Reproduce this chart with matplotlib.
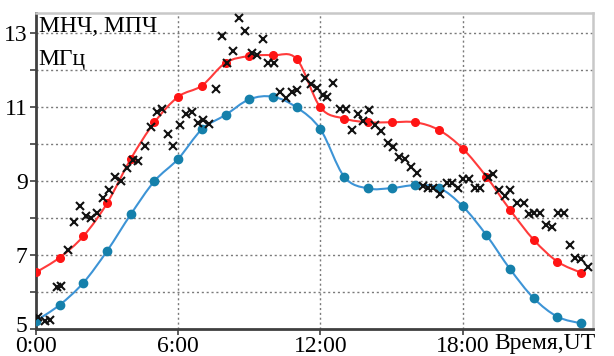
import numpy as np
import matplotlib
matplotlib.use("Agg")
import matplotlib.pyplot as plt
import matplotlib.transforms as mtransforms
from matplotlib.path import Path
from matplotlib.patches import PathPatch

plt.rcParams['font.family'] = ['Liberation Serif', 'DejaVu Serif']

# hourly model values, MHz
hours = list(range(24))
red_vals = [6.53, 6.93, 7.51, 8.40, 9.60, 10.59, 11.28, 11.58, 12.20, 12.38, 12.40, 12.30,
            10.99, 10.69, 10.59, 10.59, 10.59, 10.38, 9.88, 9.12, 8.22, 7.41, 6.82, 6.52]
blue_vals = [5.22, 5.65, 6.25, 7.11, 8.10, 9.00, 9.60, 10.40, 10.79, 11.21, 11.28, 10.99,
             10.40, 9.12, 8.80, 8.81, 8.89, 8.82, 8.32, 7.54, 6.62, 5.83, 5.33, 5.15]

# measured values (crosses)
meas_t = [0.08, 0.37, 0.58, 0.90, 1.07, 1.35, 1.60, 1.84, 2.12, 2.33, 2.59, 2.83, 3.08, 3.35,
          3.60, 3.84, 4.09, 4.32, 4.60, 4.84, 5.09, 5.33, 5.58, 5.79, 6.08, 6.33, 6.57, 6.85,
          7.06, 7.31, 7.59, 7.84, 8.05, 8.33, 8.58, 8.82, 9.10, 9.31, 9.56, 9.80, 10.04, 10.30,
          10.55, 10.79, 11.03, 11.35, 11.59, 11.84, 12.10, 12.29, 12.55, 12.83, 13.08, 13.32,
          13.60, 13.81, 14.07, 14.30, 14.54, 14.86, 15.08, 15.33, 15.57, 15.81, 16.06, 16.34,
          16.55, 16.77, 17.05, 17.33, 17.57, 17.82, 18.03, 18.28, 18.52, 18.73, 19.08, 19.30,
          19.55, 19.79, 20.00, 20.28, 20.57, 20.78, 21.03, 21.27, 21.50, 21.76, 22.04, 22.28,
          22.53, 22.74, 23.00, 23.28]
meas_f = [5.33, 5.22, 5.24, 6.13, 6.16, 7.14, 7.88, 8.33, 8.06, 8.01, 8.14, 8.55, 8.76, 9.12,
          9.01, 9.34, 9.57, 9.55, 9.95, 10.47, 10.87, 10.96, 10.27, 9.95, 10.51, 10.81, 10.87, 10.56,
          10.65, 10.54, 11.48, 12.92, 12.20, 12.52, 13.40, 13.06, 12.47, 12.42, 12.83, 12.20, 12.20, 11.41,
          11.24, 11.41, 11.46, 11.78, 11.62, 11.51, 11.33, 11.26, 11.64, 10.96, 10.96, 10.38,
          10.80, 10.62, 10.92, 10.51, 10.35, 10.02, 9.91, 9.66, 9.59, 9.39, 9.21, 8.86,
          8.80, 8.80, 8.65, 8.94, 8.94, 8.80, 9.05, 9.05, 8.80, 8.80, 9.10, 9.19,
          8.76, 8.59, 8.76, 8.40, 8.41, 8.11, 8.14, 8.14, 7.81, 7.75, 8.14, 8.14,
          7.27, 6.91, 6.88, 6.68]

xticks = [0, 6, 12, 18]
xlabels = ["0:00", "6:00", "12:00", "18:00"]
yticks = [5, 7, 9, 11, 13]


def smooth_path(x, y):
    # Catmull-Rom curve through the points, drawn as cubic bezier segments
    p = np.column_stack([x, y]).astype(float)
    p_ext = np.vstack([p[0], p, p[-1]])
    verts = [p[0]]
    codes = [Path.MOVETO]
    for i in range(len(p) - 1):
        p0, p1, p2, p3 = p_ext[i], p_ext[i + 1], p_ext[i + 2], p_ext[i + 3]
        verts += [p1 + (p2 - p0) / 6, p2 - (p3 - p1) / 6, p2]
        codes += [Path.CURVE4] * 3
    return Path(verts, codes)


fig = plt.figure(figsize=(6.14, 3.56), dpi=100)
ax = fig.add_axes([0.0586, 0.076, 0.9072, 0.888])

ax.set_xlim(0, 23.5)
ax.set_ylim(5, 13.55)

# grid
for yv in range(6, 14):
    ax.axhline(yv, color='#7a7a7a', lw=1.0, ls=(0, (1.5, 2)), zorder=1)
for xv in [6, 12, 18]:
    ax.axvline(xv, color='#7a7a7a', lw=1.0, ls=(0, (1.5, 2)), zorder=1)

ax.add_patch(PathPatch(smooth_path(hours, red_vals), fill=False, ec='#ff3b3b', lw=1.5, zorder=3))
ax.plot(hours, red_vals, 'o', color='#ff1414', ms=5.5, zorder=4)

ax.add_patch(PathPatch(smooth_path(hours, blue_vals), fill=False, ec='#3d94d6', lw=1.5, zorder=3))
ax.plot(hours, blue_vals, 'o', color='#1580ab', ms=6, zorder=4)

ax.plot(meas_t, meas_f, 'x', color='#111111', ms=6.2, mew=1.5, zorder=5)

# axes styling
for s in ['left', 'bottom']:
    ax.spines[s].set_color('#404040')
    ax.spines[s].set_linewidth(2)
for s in ['top', 'right']:
    ax.spines[s].set_color('#c8c8c8')
    ax.spines[s].set_linewidth(1.8)

ax.set_xticks(xticks)
ax.set_xticklabels(xlabels)
ax.set_yticks(yticks)
ax.set_yticks([6, 8, 10, 12], minor=True)
ax.tick_params(axis='both', which='both', direction='out', length=4, width=1.2,
               color='#404040', labelsize=17, pad=1)
ax.tick_params(axis='y', pad=2)

# lift the "5" label a little so it clears "0:00"
lab5 = ax.get_yticklabels()[0]
lab5.set_transform(lab5.get_transform() + mtransforms.ScaledTranslation(0, 5 / 100, fig.dpi_scale_trans))

ax.text(1.005, -0.012, "Время,UT", transform=ax.transAxes, ha='right', va='top', fontsize=17)
ax.text(0.005, 0.99, "МНЧ, МПЧ", transform=ax.transAxes, ha='left', va='top', fontsize=17)
ax.text(0.005, 0.885, "МГц", transform=ax.transAxes, ha='left', va='top', fontsize=17)

fig.savefig("out.png", dpi=100)
